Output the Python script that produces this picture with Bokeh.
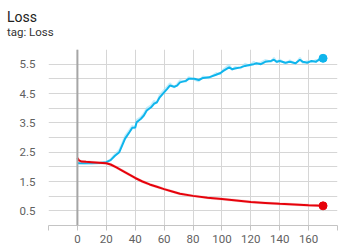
from bokeh.plotting import figure
from bokeh.models import FixedTicker, Span, Div
from bokeh.layouts import column
from bokeh.embed import file_html
from bokeh.resources import INLINE

# ---- data ----
blue_steps = [0, 5, 10, 15, 20, 23, 26, 29, 31, 33, 36, 38, 40, 41, 44, 46, 48, 51, 53, 55, 57, 60, 62,
              64, 67, 69, 71, 75, 77, 81, 84, 87, 91, 96, 99, 101, 105, 107, 109, 113, 116, 119, 122,
              124, 127, 130, 134, 136, 138, 140, 144, 147, 151, 154, 156, 159, 162, 165, 167, 170]
blue_vals = [2.12, 2.12, 2.12, 2.13, 2.16, 2.23, 2.38, 2.50, 2.73, 2.96, 3.18, 3.33, 3.34, 3.52, 3.64,
             3.75, 3.92, 4.03, 4.15, 4.20, 4.37, 4.54, 4.65, 4.77, 4.73, 4.77, 4.88, 4.93, 5.00, 5.00,
             4.96, 5.03, 5.05, 5.14, 5.20, 5.27, 5.39, 5.33, 5.35, 5.39, 5.44, 5.47, 5.50, 5.53, 5.50,
             5.58, 5.61, 5.65, 5.58, 5.61, 5.55, 5.58, 5.53, 5.65, 5.58, 5.55, 5.61, 5.58, 5.65, 5.70]
blue_raw = [2.13, 2.11, 2.13, 2.12, 2.17, 2.25, 2.42, 2.58, 2.80, 3.05, 3.25, 3.40, 3.30, 3.60, 3.70,
            3.82, 4.00, 4.10, 4.25, 4.18, 4.45, 4.62, 4.72, 4.85, 4.70, 4.82, 4.95, 4.90, 5.06, 4.97,
            4.92, 5.08, 5.02, 5.20, 5.16, 5.32, 5.48, 5.30, 5.40, 5.36, 5.52, 5.44, 5.58, 5.49, 5.56,
            5.64, 5.58, 5.72, 5.55, 5.66, 5.51, 5.63, 5.50, 5.72, 5.54, 5.60, 5.57, 5.64, 5.62, 5.74]

red_steps = [0, 1, 3, 6, 10, 15, 20, 23, 27, 30, 35, 40, 45, 50, 55, 60, 65, 71, 80, 90, 100, 110,
             120, 130, 140, 150, 160, 170]
red_vals = [2.30, 2.22, 2.18, 2.17, 2.16, 2.14, 2.12, 2.08, 1.98, 1.90, 1.76, 1.62, 1.50, 1.40, 1.32,
            1.24, 1.17, 1.08, 1.01, 0.95, 0.90, 0.85, 0.80, 0.77, 0.74, 0.72, 0.69, 0.67]

x_ticks = [-20, 0, 20, 40, 60, 80, 100, 120, 140, 160, 180]
y_ticks = [0.5, 1.5, 2.5, 3.5, 4.5, 5.5]
y_minor = [0, 1, 2, 3, 4, 5, 6]

title_text = "Loss"
subtitle_text = "tag: Loss"

BLUE = "#0fb5ec"
RED = "#e6020b"
GRID = "#d6d6d6"
FONT = "Roboto"

header = Div(
    text=(
        '<div style="position:relative;width:360px;height:48px;font-family:Roboto;">'
        '<div style="position:absolute;left:7px;top:10px;font-size:14px;line-height:1;'
        'color:#212121;white-space:nowrap;">' + title_text + '</div>'
        '<div style="position:absolute;left:7px;top:27px;font-size:11.5px;line-height:1;'
        'color:#333333;white-space:nowrap;">' + subtitle_text + '</div>'
        '</div>'
    ),
    width=360, height=48, margin=0,
)

p = figure(width=360, height=201, output_backend="svg", toolbar_location=None,
           x_range=(-20, 180), y_range=(0, 6), title=None,
           min_border_left=48, min_border_right=23, min_border_bottom=24, min_border_top=1)
p.outline_line_color = None
p.background_fill_color = "white"
p.border_fill_color = "white"

# x axis
p.xaxis.ticker = FixedTicker(ticks=x_ticks)
p.xaxis.major_label_overrides = {-20: "", 180: ""}
p.xaxis.axis_line_color = "#c4c4c4"
p.xaxis.major_tick_line_color = "#c4c4c4"
p.xaxis.major_tick_out = 5
p.xaxis.major_tick_in = 0
p.xaxis.minor_tick_line_color = None
p.xaxis.major_label_text_font = FONT
p.xaxis.major_label_text_font_size = "11.5px"
p.xaxis.major_label_text_color = "#616161"
p.xaxis.major_label_standoff = 4

# y axis
p.yaxis.ticker = FixedTicker(ticks=y_ticks, minor_ticks=y_minor)
p.yaxis.axis_line_color = None
p.yaxis.major_tick_line_color = None
p.yaxis.minor_tick_line_color = None
p.yaxis.major_label_text_font = FONT
p.yaxis.major_label_text_font_size = "11.5px"
p.yaxis.major_label_text_color = "#616161"
p.yaxis.major_label_standoff = 7

p.xgrid.grid_line_color = GRID
p.ygrid.grid_line_color = GRID
p.ygrid.minor_grid_line_color = GRID

p.add_layout(Span(location=0, dimension="height", line_color="#a6a6a6", line_width=2))

# series
p.line(blue_steps, blue_raw, line_color="#9fe3fa", line_width=2, line_alpha=0.6)
p.line(blue_steps, blue_vals, line_color=BLUE, line_width=2)
p.line(red_steps, red_vals, line_color="#f4a0a0", line_width=3, line_alpha=0.4)
p.line(red_steps, red_vals, line_color=RED, line_width=2)
p.scatter([blue_steps[-1]], [blue_vals[-1]], size=8, color=BLUE)
p.scatter([red_steps[-1]], [red_vals[-1]], size=8, color=RED)

page = column(header, p, spacing=0, margin=0)
open("out.html", "w").write(file_html(page, INLINE))
